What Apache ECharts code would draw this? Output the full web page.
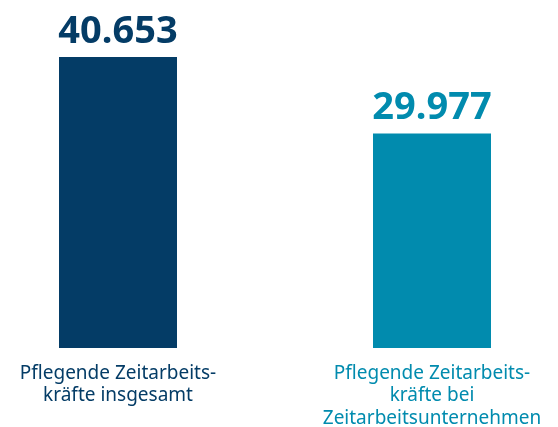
<!DOCTYPE html>
<html><head><meta charset="utf-8">
<script src="https://cdn.jsdelivr.net/npm/echarts@6/dist/echarts.min.js"></script>
<style>html,body{margin:0;padding:0;background:#fff}#c{width:558px;height:427px}</style>
</head><body><div id="c"></div>
<script>
const categories = ["Pflegende Zeitarbeits-\nkräfte insgesamt", "Pflegende Zeitarbeits-\nkräfte bei\nZeitarbeitsunternehmen"];
const values = [40653, 29977];
const colors = ["#043c66", "#018bae"];

const chart = echarts.init(document.getElementById('c'));
chart.setOption({
  animation: false,
  grid: { left: 118, right: 126, top: 57, bottom: 79, outerBoundsMode: 'none', containLabel: false },
  xAxis: {
    type: 'category',
    boundaryGap: false,
    data: categories.map((c, i) => ({ value: c, textStyle: { color: colors[i] } })),
    axisLine: { show: false }, axisTick: { show: false },
    axisLabel: { interval: 0, fontFamily: 'Noto Sans', fontSize: 19, lineHeight: 22.5, margin: 14 }
  },
  yAxis: { type: 'value', min: 0, max: 40653, show: false, splitLine: { show: false } },
  series: [{
    type: 'bar',
    clip: false,
    barWidth: 118,
    data: values.map((v, i) => ({ value: v, itemStyle: { color: colors[i] }, label: { color: colors[i] } })),
    label: {
      show: true, position: 'top', distance: 6,
      fontFamily: 'Noto Sans', fontWeight: 'bold', fontSize: 38,
      formatter: p => p.value.toLocaleString('de-DE')
    }
  }]
});
</script></body></html>
